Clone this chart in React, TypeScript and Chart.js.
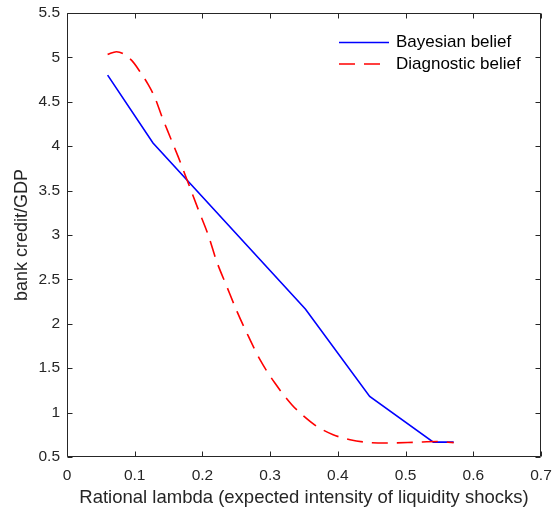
import { useEffect, useRef } from 'react';
import { Chart, registerables } from 'chart.js';
import type { Plugin } from 'chart.js';

Chart.register(...registerables);

// Bayesian belief (solid blue)
const BAYES_X = [0.06, 0.127, 0.352, 0.447, 0.541, 0.571];
const BAYES_Y = [4.8, 4.036, 2.167, 1.183, 0.668, 0.668];

// Diagnostic belief (dashed red)
const DIAG_X = [
  0.06, 0.073, 0.0955, 0.109, 0.12, 0.13, 0.14, 0.152, 0.164, 0.179, 0.194, 0.209, 0.221,
  0.236, 0.251, 0.268, 0.285, 0.307, 0.332, 0.346, 0.369, 0.393, 0.418, 0.443, 0.472, 0.512,
  0.546, 0.571,
];
const DIAG_Y = [
  5.034, 5.064, 4.966, 4.824, 4.693, 4.543, 4.336, 4.11, 3.885, 3.586, 3.285, 2.99, 2.703,
  2.42, 2.14, 1.858, 1.596, 1.333, 1.089, 0.985, 0.845, 0.751, 0.695, 0.665, 0.658, 0.665,
  0.674, 0.662,
];

const X_TICKS = [0, 0.1, 0.2, 0.3, 0.4, 0.5, 0.6, 0.7];
const Y_TICKS = [0.5, 1, 1.5, 2, 2.5, 3, 3.5, 4, 4.5, 5, 5.5];

const SERIES_LABELS = ['Bayesian belief', 'Diagnostic belief'];
const X_TITLE = 'Rational lambda (expected intensity of liquidity shocks)';
const Y_TITLE = 'bank credit/GDP';

const FONT = '"Liberation Sans", Arial, Helvetica, sans-serif';
const AXIS_COLOR = '#262626';

const toPoints = (xs: number[], ys: number[]) => xs.map((x, i) => ({ x, y: ys[i] }));
const fmt = (v: number | string) => String(+Number(v).toFixed(1));

// MATLAB-like box with inward ticks on all four sides
const framePlugin: Plugin<'line'> = {
  id: 'frame',
  afterDraw(chart) {
    const { ctx, chartArea: a, scales } = chart;
    const left = Math.round(a.left) + 0.5;
    const right = Math.round(a.right) - 0.5;
    const top = Math.round(a.top) + 0.5;
    const bottom = Math.round(a.bottom) - 0.5;
    const len = 5;
    ctx.save();
    ctx.strokeStyle = AXIS_COLOR;
    ctx.lineWidth = 1;
    ctx.beginPath();
    ctx.rect(left, top, right - left, bottom - top);
    for (const v of X_TICKS) {
      const px = Math.round(scales.x.getPixelForValue(v)) + 0.5;
      ctx.moveTo(px, bottom);
      ctx.lineTo(px, bottom - len);
      ctx.moveTo(px, top);
      ctx.lineTo(px, top + len);
    }
    for (const v of Y_TICKS) {
      const py = Math.round(scales.y.getPixelForValue(v)) + 0.5;
      ctx.moveTo(left, py);
      ctx.lineTo(left + len, py);
      ctx.moveTo(right, py);
      ctx.lineTo(right - len, py);
    }
    ctx.stroke();
    ctx.restore();
  },
};

// legend inside the top right corner of the plot
const legendPlugin: Plugin<'line'> = {
  id: 'insideLegend',
  afterDraw(chart) {
    const { ctx, chartArea: a } = chart;
    const x0 = a.right - 202;
    const lineLen = 50;
    ctx.save();
    ctx.font = `17px ${FONT}`;
    ctx.textBaseline = 'middle';
    ctx.textAlign = 'left';
    chart.data.datasets.forEach((ds, i) => {
      const y = a.top + 29.5 + i * 21.5;
      ctx.strokeStyle = ds.borderColor as string;
      ctx.lineWidth = ds.borderWidth as number;
      ctx.setLineDash((ds as any).borderDash ?? []);
      ctx.beginPath();
      ctx.moveTo(x0, y);
      ctx.lineTo(x0 + lineLen, y);
      ctx.stroke();
      ctx.fillStyle = '#000';
      ctx.fillText(ds.label ?? '', x0 + lineLen + 7, y);
    });
    ctx.restore();
  },
};

export default function App(): React.JSX.Element {
  const canvasRef = useRef<HTMLCanvasElement>(null);

  useEffect(() => {
    if (!canvasRef.current) return;

    const chart = new Chart(canvasRef.current, {
      type: 'line',
      data: {
        datasets: [
          {
            label: SERIES_LABELS[0],
            data: toPoints(BAYES_X, BAYES_Y),
            borderColor: '#0000ff',
            borderWidth: 1.6,
            pointRadius: 0,
            tension: 0,
            order: 1,
          },
          {
            label: SERIES_LABELS[1],
            data: toPoints(DIAG_X, DIAG_Y),
            borderColor: '#ff0000',
            borderWidth: 1.6,
            borderDash: [16, 9],
            pointRadius: 0,
            cubicInterpolationMode: 'monotone',
            order: 0,
          },
        ],
      },
      options: {
        responsive: true,
        maintainAspectRatio: false,
        animation: false,
        layout: { padding: { top: 13, right: 11, left: 0, bottom: 0 } },
        plugins: {
          legend: { display: false },
          tooltip: { enabled: false },
        },
        scales: {
          x: {
            type: 'linear',
            min: 0,
            max: 0.7,
            afterBuildTicks: (s) => {
              s.ticks = X_TICKS.map((value) => ({ value }));
            },
            afterFit: (s) => {
              s.height = 56;
              s.paddingLeft = 0;
              s.paddingRight = 0;
            },
            grid: { display: false, drawTicks: false },
            border: { display: false },
            ticks: {
              color: AXIS_COLOR,
              padding: 9,
              maxRotation: 0,
              font: { family: FONT, size: 15.5 },
              callback: (v) => fmt(v),
            },
            title: {
              display: true,
              text: X_TITLE,
              color: AXIS_COLOR,
              padding: { top: 0, bottom: 4 },
              font: { family: FONT, size: 18.5 },
            },
          },
          y: {
            type: 'linear',
            min: 0.5,
            max: 5.5,
            afterBuildTicks: (s) => {
              s.ticks = Y_TICKS.map((value) => ({ value }));
            },
            afterFit: (s) => {
              s.width = 67;
              s.paddingTop = 0;
              s.paddingBottom = 0;
            },
            grid: { display: false, drawTicks: false },
            border: { display: false },
            ticks: {
              color: AXIS_COLOR,
              padding: 7,
              font: { family: FONT, size: 15.5 },
              callback: (v) => fmt(v),
            },
            title: {
              display: true,
              text: Y_TITLE,
              color: AXIS_COLOR,
              padding: { top: 11, bottom: 0 },
              font: { family: FONT, size: 18 },
            },
          },
        },
      },
      plugins: [framePlugin, legendPlugin],
    });

    return () => {
      chart.destroy();
    };
  }, []);

  return (
    <div style={{ position: 'absolute', left: 0, top: 0, width: 552, height: 513, background: '#fff' }}>
      <canvas ref={canvasRef} />
    </div>
  );
}
